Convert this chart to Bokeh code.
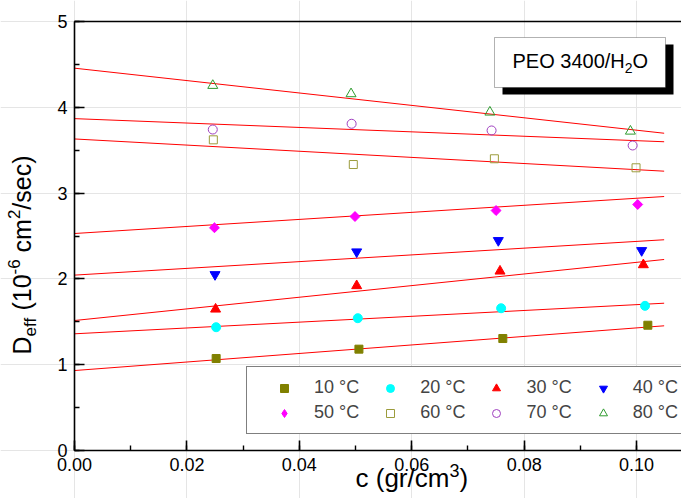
import math
from bokeh.plotting import figure
from bokeh.models import (Range1d, SingleIntervalTicker, NumeralTickFormatter, Label,
                          BoxAnnotation, Legend, LegendItem, LinearAxis)
from bokeh.embed import file_html
from bokeh.resources import INLINE

# ---------------- data ----------------
temps = ["10 °C", "20 °C", "30 °C", "40 °C", "50 °C", "60 °C", "70 °C", "80 °C"]

c_10C = [0.0252, 0.0506, 0.0762, 0.1020]
D_10C = [1.072, 1.181, 1.305, 1.460]
c_20C = [0.0252, 0.0504, 0.0759, 0.1015]
D_20C = [1.437, 1.542, 1.658, 1.686]
c_30C = [0.0251, 0.0502, 0.0757, 0.1012]
D_30C = [1.647, 1.920, 2.090, 2.164]
c_40C = [0.0250, 0.0502, 0.0754, 0.1009]
D_40C = [2.051, 2.316, 2.448, 2.331]
c_50C = [0.0249, 0.0499, 0.0750, 0.1002]
D_50C = [2.596, 2.727, 2.797, 2.867]
c_60C = [0.0247, 0.0496, 0.0747, 0.0999]
D_60C = [3.621, 3.333, 3.400, 3.295]
c_70C = [0.0246, 0.0493, 0.0742, 0.0993]
D_70C = [3.741, 3.808, 3.730, 3.555]
c_80C = [0.0246, 0.0492, 0.0739, 0.0989]
D_80C = [4.254, 4.157, 3.943, 3.721]

# linear fits drawn in red (intercept, slope)
fit_intercept = [0.932, 1.360, 1.515, 2.044, 2.529, 3.631, 3.868, 4.456]
fit_slope = [4.97, 3.40, 6.78, 3.93, 4.11, -3.58, -2.57, -7.23]
fit_c_range = [0.0, 0.1049]

x_ticks_interval = 0.02
y_ticks_interval = 1

# ---------------- layout ----------------
W, H = 681, 498
AX_L, AX_R, AX_T, AX_B = 74, 681, 21, 450      # axes box in canvas pixels
PX_PER_X = 5621.0
PX_PER_Y = (AX_B - AX_T) / 5.0
X_END = (AX_R - AX_L) / PX_PER_X
Y_END = 5.0
FONT = "Liberation Sans"


def dx(X):
    return (X - AX_L) / PX_PER_X


def dy(Y):
    return (AX_B - Y) / PX_PER_Y


# frame covers the whole canvas; axes are placed at fixed data locations
p = figure(width=W, height=H, output_backend="svg", toolbar_location=None,
           x_range=Range1d(dx(0), dx(W)), y_range=Range1d(dy(H), dy(0)),
           x_axis_location=None, y_axis_location=None,
           min_border=0)
p.outline_line_color = None
p.background_fill_color = "white"
p.border_fill_color = "white"

xaxis = LinearAxis(fixed_location=0, bounds=(0, X_END),
                   ticker=SingleIntervalTicker(interval=x_ticks_interval, num_minor_ticks=2),
                   formatter=NumeralTickFormatter(format="0.00"))
yaxis = LinearAxis(fixed_location=0, bounds=(0, Y_END),
                   ticker=SingleIntervalTicker(interval=y_ticks_interval, num_minor_ticks=2))
for ax in (xaxis, yaxis):
    ax.axis_line_color = "black"
    ax.axis_line_width = 1.6
    ax.major_tick_line_color = "black"
    ax.major_tick_line_width = 1.6
    ax.minor_tick_line_color = "black"
    ax.minor_tick_line_width = 1.4
    ax.major_tick_in = 10
    ax.major_tick_out = 0
    ax.minor_tick_in = 5
    ax.minor_tick_out = 0
    ax.major_label_text_font = FONT
    ax.major_label_text_font_size = "18px"
    ax.major_label_text_color = "black"
    ax.major_label_standoff = 7
p.add_layout(xaxis, "below")
p.add_layout(yaxis, "left")

# top frame line
p.segment(x0=[0], y0=[Y_END], x1=[X_END], y1=[Y_END], line_color="black", line_width=1.6)

# ---------------- fit lines ----------------
for b, m in zip(fit_intercept, fit_slope):
    p.line(fit_c_range, [b + m * c for c in fit_c_range], line_color="#FF0000", line_width=1)

# ---------------- data points ----------------
series = [
    (c_10C, D_10C, "square", "#808000", "#808000", 8, 0),
    (c_20C, D_20C, "circle", "#00FFFF", "#00FFFF", 9, 0),
    (c_30C, D_30C, "triangle", "#FF0000", "#FF0000", 10, 0),
    (c_40C, D_40C, "inverted_triangle", "#0000FF", "#0000FF", 10, 0),
    (c_50C, D_50C, "square", "#FF00FF", "#FF00FF", 7, math.pi / 4),
    (c_60C, D_60C, "square", None, "#9C9C3C", 8, 0),
    (c_70C, D_70C, "circle", None, "#A040C0", 9, 0),
    (c_80C, D_80C, "triangle", None, "#2E9B2E", 10, 0),
]
items = []
for (cx, dyv, mk, fc, lc, sz, ang), name in zip(series, temps):
    key = None
    if ang:
        # legend glyphs ignore rotation: a diamond of the same points (hidden under the
        # rotated squares) provides the legend key
        key = p.scatter(cx, dyv, marker="diamond", size=8, fill_color=fc, line_color=lc,
                        line_width=1)
    r = p.scatter(cx, dyv, marker=mk, size=sz, angle=ang, fill_color=fc, line_color=lc,
                  line_width=1)
    items.append(LegendItem(label=name, renderers=[key if key is not None else r]))

legend = Legend(items=items, orientation="horizontal", nrows=2,
                location=(246, H - 434),
                border_line_color="black", border_line_width=1.5,
                background_fill_color="white", background_fill_alpha=1,
                label_text_font=FONT, label_text_font_size="18px",
                glyph_width=54, glyph_height=20, label_standoff=3,
                spacing=4, padding=10, margin=0)
p.add_layout(legend, "center")

# ---------------- rich text helper ----------------
CW = {"P": .667, "E": .667, "O": .778, " ": .278, "0": .556, "1": .556, "2": .556, "3": .556,
      "4": .556, "6": .556, "/": .278, "H": .722, "D": .722, "e": .556, "f": .278, "(": .333,
      ")": .333, "-": .333, "c": .5, "m": .833, "s": .5, "g": .556, "r": .333}
MID = 0.35   # distance (em) from baseline up to the text box middle


def rich(x0, y0, segs, rotated=False):
    """Place text pieces one after another; x0, y0 = start of the baseline (canvas px)."""
    pos = 0.0
    for t, s, sh in segs:
        lead = len(t) - len(t.lstrip(" "))
        pos += lead * CW[" "] * s
        t = t.lstrip(" ")
        if rotated:
            X, Y = x0 + sh - MID * s, y0 - pos
        else:
            X, Y = x0 + pos, y0 + sh - MID * s
        p.add_layout(Label(x=dx(X), y=dy(Y), text=t, text_font=FONT,
                           text_font_size=f"{s}px", text_color="black",
                           text_baseline="middle", text_align="left",
                           angle=(math.pi / 2 if rotated else 0)))
        pos += sum(CW.get(ch, .556) for ch in t) * s


# ---------------- title box ----------------
p.add_layout(BoxAnnotation(left=dx(502), right=dx(673), top=dy(44), bottom=dy(94),
                           fill_color="black", fill_alpha=1, line_color=None))
p.add_layout(BoxAnnotation(left=dx(494), right=dx(665), top=dy(37), bottom=dy(87),
                           fill_color="white", fill_alpha=1, line_color="black", line_width=1))
rich(512, 67, [("PEO 3400/H", 20, 0), ("2", 14, 5), ("O", 20, 0)])

# ---------------- axis labels ----------------
rich(355, 487, [("c (gr/cm", 26, 0), ("3", 18, -11), (")", 26, 0)])
rich(30, 354, [("D", 25, 0), ("eff", 17, 6), (" (10", 25, 0), ("-6", 17, -11),
               (" cm", 25, 0), ("2", 17, -11), ("/sec)", 25, 0)], rotated=True)

open("out.html", "w").write(file_html(p, INLINE))
